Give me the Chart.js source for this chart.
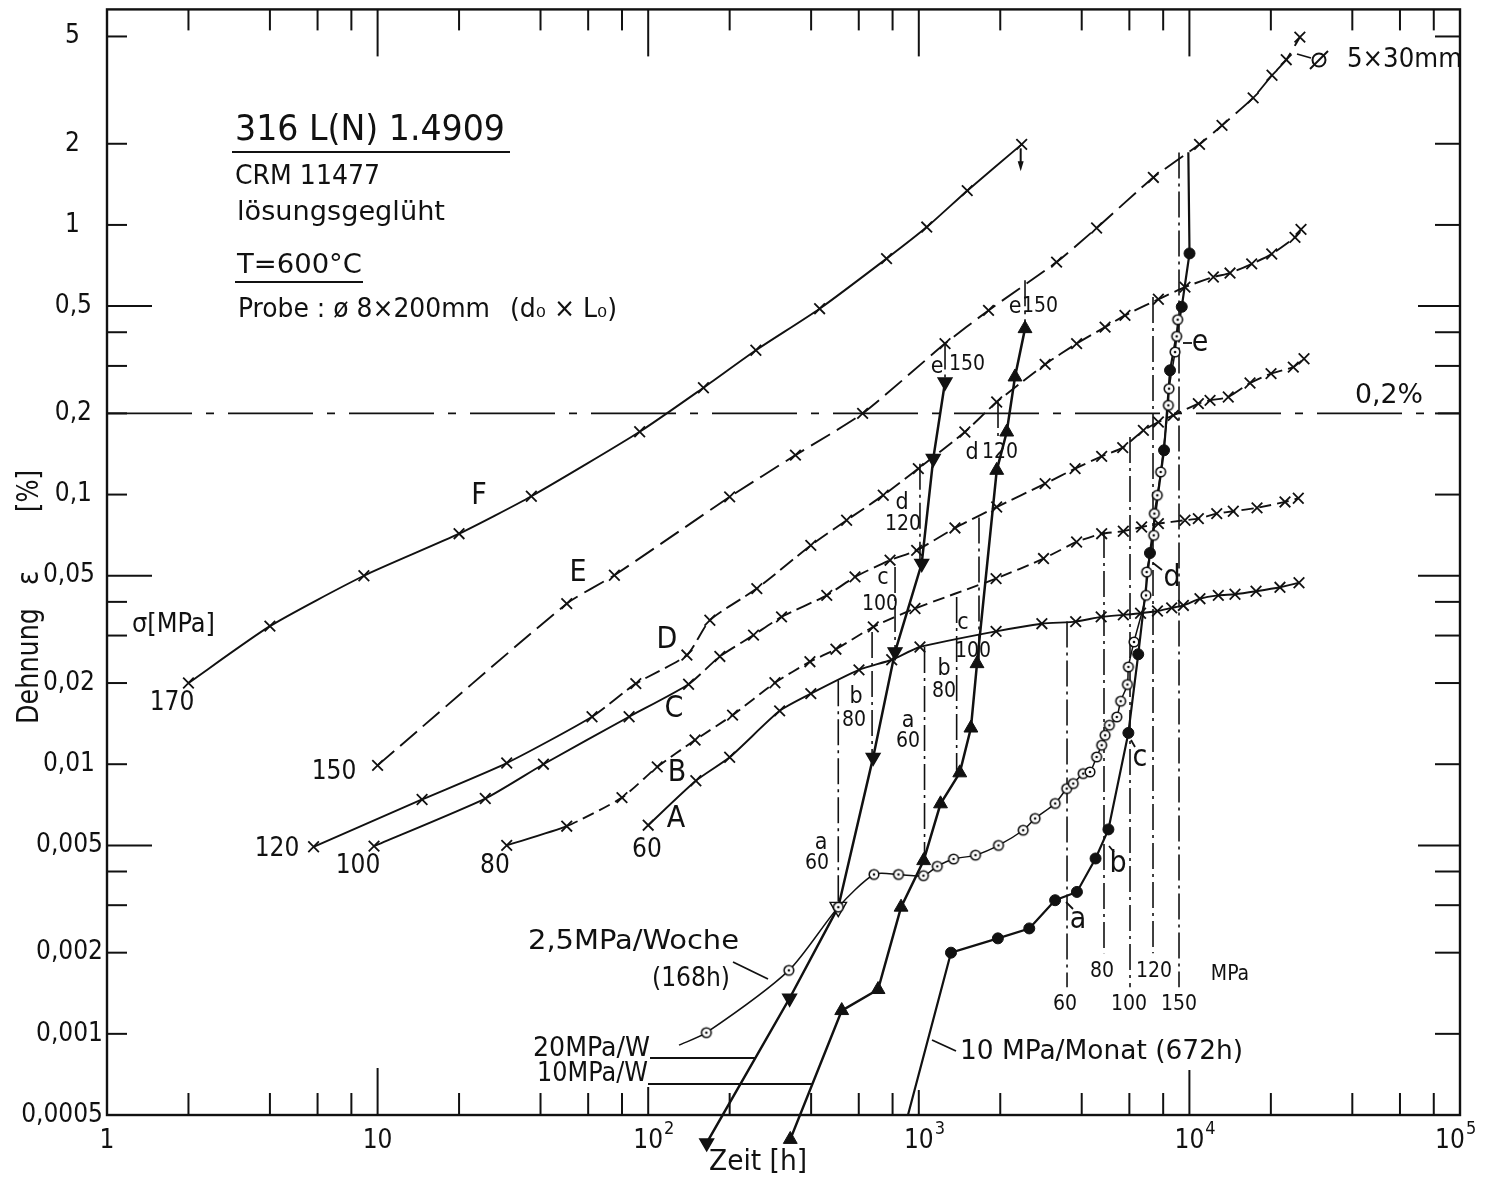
<!DOCTYPE html>
<html lang="de">
<head>
<meta charset="utf-8">
<title>316 L(N) 1.4909 – Kriechdehnung bei 600 °C</title>
<script src="https://cdn.jsdelivr.net/npm/chart.js@4.4.1/dist/chart.umd.min.js"></script>
<style>
  html, body { margin: 0; padding: 0; background: #fff; }
  canvas { display: block; }
</style>
</head>
<body>
<canvas id="chart" width="1488" height="1181"></canvas>
<script>
const INK = '#111';
const FONT = '"DejaVu Sans Condensed", "Liberation Sans Narrow", "Roboto Condensed", Roboto, "DejaVu Sans", sans-serif';

// ---- axes ----
const X_MIN = 1, X_MAX = 1e5;            // Zeit [h]
const Y_FRAME_MIN = 0.0005, Y_MAX = 6.3;  // Dehnung [%]
const Y_DRAW_MIN = 0.00037;               // room for the first loading steps below the frame

const xTickValues = [1, 10, 100, 1000, 10000, 100000];
const xTickBase = ['1', '10', '10', '10', '10', '10'];
const xTickExp = ['', '', '2', '3', '4', '5'];
const xMinorFactors = [2, 4, 6, 8];
const xDecadeTicks = [10, 100, 1000, 10000];

const yTickValues = [0.0005, 0.001, 0.002, 0.005, 0.01, 0.02, 0.05, 0.1, 0.2, 0.5, 1, 2, 5];
const yTickLabels = ['0,0005', '0,001', '0,002', '0,005', '0,01', '0,02', '0,05', '0,1', '0,2', '0,5', '1', '2', '5'];
const yShortTicks = [0.001, 0.002, 0.003, 0.004, 0.01, 0.02, 0.03, 0.04, 0.1, 0.2, 0.3, 0.4, 1, 2, 5];
const yLongTicks = [0.005, 0.05, 0.5];

const limitStrain = 0.2; // 0,2 % line

// ---- creep curves at constant stress: F 170, E 150, D 120, C 100, B 80, A 60 MPa ----
const curveF_time   = [2, 4, 8.9, 20, 37, 93, 160, 250, 430, 760, 1070, 1510, 2400];
const curveF_strain = [0.020, 0.0325, 0.050, 0.0716, 0.0986, 0.171, 0.249, 0.343, 0.489, 0.750, 0.982, 1.34, 1.99];

const curveE_time   = [10, 50, 75, 200, 350, 620, 1250, 1810, 3230, 4540, 7360, 10900, 13200, 17200, 20200, 22800, 25600];
const curveE_strain = [0.0099, 0.0394, 0.0502, 0.098, 0.140, 0.200, 0.363, 0.482, 0.728, 0.974, 1.50, 1.99, 2.34, 2.96, 3.59, 4.10, 4.97];

const curveD_time   = [5.8, 14.6, 30, 62, 90, 139, 169, 252, 399, 541, 739, 996, 1480, 1940, 2930, 3830, 4880, 5780, 7680, 9630, 12260, 14130, 16990, 20150, 24560, 25850];
const curveD_strain = [0.00494, 0.0074, 0.0101, 0.0150, 0.0199, 0.0254, 0.0342, 0.0448, 0.0648, 0.0803, 0.0994, 0.1248, 0.1706, 0.2204, 0.304, 0.363, 0.418, 0.462, 0.530, 0.588, 0.641, 0.663, 0.717, 0.780, 0.899, 0.963];

const curveC_time   = [9.7, 25, 41, 85, 141, 184, 245, 311, 457, 581, 783, 982, 1360, 1940, 2930, 3780, 4740, 5670, 6760, 7680, 8720, 10790, 11920, 13920, 16750, 20030, 24210, 26520];
const curveC_strain = [0.00497, 0.00746, 0.0100, 0.0150, 0.0198, 0.0251, 0.0301, 0.0352, 0.0423, 0.0495, 0.0571, 0.0621, 0.0752, 0.0899, 0.1098, 0.1248, 0.1386, 0.1493, 0.173, 0.1858, 0.1967, 0.2175, 0.2236, 0.230, 0.2593, 0.281, 0.297, 0.319];

const curveB_time   = [30, 50, 80, 108, 149, 205, 294, 396, 494, 679, 968, 1930, 2890, 3830, 4740, 5700, 6660, 7680, 9630, 10790, 12620, 14530, 17780, 22560, 25260];
const curveB_strain = [0.0050, 0.00589, 0.00752, 0.00977, 0.01229, 0.0152, 0.02005, 0.024, 0.0267, 0.0323, 0.0378, 0.0488, 0.0579, 0.0667, 0.0716, 0.0731, 0.0758, 0.078, 0.0803, 0.0814, 0.085, 0.0867, 0.0893, 0.0939, 0.0969];

const curveA_time   = [100, 150, 200, 306, 399, 601, 794, 1010, 1930, 2850, 3800, 4720, 5700, 6600, 7620, 8600, 9500, 10940, 12790, 14740, 17630, 21610, 25410];
const curveA_strain = [0.00594, 0.00868, 0.01061, 0.01577, 0.01827, 0.02238, 0.0244, 0.0272, 0.0311, 0.0332, 0.0338, 0.0352, 0.0358, 0.0363, 0.037, 0.038, 0.0388, 0.0411, 0.0423, 0.0427, 0.0438, 0.0453, 0.0471];

// ---- stepwise loading ----
// 2,5 MPa per week (168 h), first entry is the start of the line
const weekly25_time   = [130, 164, 331, 504, 683, 841, 1040, 1170, 1344, 1620, 1970, 2430, 2690, 3190, 3520, 3720, 4050, 4290, 4540, 4740, 4880, 5060, 5390, 5570, 5900, 5950, 6240, 6910, 6950, 7380, 7420, 7610, 7830, 8360, 8410, 8850, 8970, 9050];
const weekly25_strain = [0.000908, 0.00101, 0.00172, 0.00295, 0.0039, 0.0039, 0.00386, 0.00418, 0.00445, 0.0046, 0.0050, 0.00569, 0.00629, 0.00715, 0.00812, 0.00848, 0.00923, 0.00936, 0.01064, 0.01176, 0.0128, 0.01395, 0.01497, 0.01712, 0.01975, 0.02295, 0.0284, 0.0423, 0.0516, 0.0706, 0.085, 0.0994, 0.1213, 0.2143, 0.2471, 0.3378, 0.3862, 0.4454];

// 20 MPa per week (down triangles)
const weekly20_time   = [164.5, 333, 504, 678, 817, 1025, 1131, 1250];
const weekly20_strain = [0.000394, 0.001355, 0.00295, 0.0106, 0.0261, 0.0555, 0.136, 0.2615];
const weekly20_openIndex = 2; // reading shared with the 2,5 MPa/Woche curve

// 10 MPa per week (up triangles)
const weekly10_time   = [335, 519, 707, 860, 1042, 1203, 1417, 1558, 1641, 1941, 2113, 2267, 2469];
const weekly10_strain = [0.000406, 0.00122, 0.00146, 0.00295, 0.00439, 0.00713, 0.00929, 0.01362, 0.0236, 0.123, 0.1706, 0.273, 0.4125];

// 10 MPa per month (672 h), filled dots; first and last entries are line ends
const monthly10_time   = [912, 1315, 1960, 2560, 3190, 3840, 4500, 5020, 5950, 6470, 7150, 8060, 8480, 9370, 10010, 9910];
const monthly10_strain = [0.0005, 0.0020, 0.00226, 0.00246, 0.00313, 0.00336, 0.00447, 0.00573, 0.01306, 0.02557, 0.0607, 0.146, 0.289, 0.497, 0.784, 1.86];

// stress steps a..e (60..150 MPa): vertical links to the constant-load curves
const stepLetters = ['a', 'b', 'c', 'd', 'e'];
const stepStress  = [60, 80, 100, 120, 150];
const step20_time   = [504, 672, 817, 1010, 1250];
const step20_top    = [0.0205, 0.0309, 0.0539, 0.1302, 0.363];
const step20_bottom = [0.00295, 0.0106, 0.0261, 0.0555, 0.2615];
const step10_time   = [1050, 1380, 1669, 1962, 2469];
const step10_top    = [0.0272, 0.0417, 0.0823, 0.2204, 0.623];
const step10_bottom = [0.00439, 0.0093, 0.0236, 0.1635, 0.4125];
const stepMonth_time   = [3530, 4835, 6033, 7337, 9154];
const stepMonth_top    = [0.0338, 0.0727, 0.1635, 0.540, 1.858];
const stepMonth_bottom = [0.00149, 0.00199, 0.00149, 0.00199, 0.00149];

// ---- layout of annotation texts (canvas pixels) ----
const textNotes = [
  // text, x, y, size, align, fitted width
  ['316 L(N) 1.4909', 235, 131, 36, 'left', 270],
  ['CRM 11477', 235, 177, 26, 'left', 145],
  ['lösungsgeglüht', 237, 213, 26, 'left', 208],
  ['T=600°C', 237, 266, 26, 'left', 125],
  ['Probe : ø 8×200mm', 238, 310, 26, 'left', 252],
  ['(d₀ × L₀)', 510, 310, 26, 'left', 107],
  ['σ[MPa]', 132, 625, 26, 'left', 83],
  ['F', 479, 496, 30], ['E', 578, 573, 30], ['D', 667, 640, 30],
  ['C', 674, 709, 30], ['B', 677, 773, 30], ['A', 676, 819, 30],
  ['170', 172, 703, 26], ['150', 334, 772, 26], ['120', 277, 849, 26],
  ['100', 358, 866, 26], ['80', 495, 866, 26], ['60', 647, 850, 26],
  ['0,2%', 1355, 396, 26, 'left', 68],
  ['2,5MPa/Woche', 528, 942, 26, 'left', 211],
  ['(168h)', 652, 979, 26, 'left', 78],
  ['20MPa/W', 650, 1049, 26, 'right', 117],
  ['10MPa/W', 648, 1074, 26, 'right', 111],
  ['10 MPa/Monat (672h)', 960, 1052, 26, 'left', 283],
  ['5×30mm', 1347, 60, 26, 'left', 115],
  ['MPa', 1230, 975, 21],
  ['Zeit [h]', 758, 1163, 28, 'center', 98]
];
const underlines = [[232, 152, 510], [235, 282, 363]];
const leaders = [
  [733, 962, 768, 979], [650, 1058, 755, 1058], [648, 1084, 812, 1084], [932, 1040, 956, 1051],
  [1066, 902, 1073, 909], [1109, 846, 1114, 852], [1131, 740, 1135, 747], [1153, 563, 1162, 570],
  [1183, 343, 1192, 343], [1297, 54, 1311, 58]
];
const step20_labelPos = [[821, 843, 817, 864], [856, 697, 854, 721], [883, 578, 880, 605], [902, 503, 903, 525], [937, 367, 967, 365]];
const step10_labelPos = [[908, 721, 908, 742], [944, 669, 944, 692], [963, 623, 973, 652], [972, 453, 1000, 453], [1015, 307, 1040, 307]];
const stepMonth_letterPos = [[1078, 920], [1118, 864], [1140, 758], [1172, 578], [1200, 343]];
const stepMonth_stressPos = [[1065, 1005], [1102, 972], [1129, 1005], [1154, 972], [1179, 1005]];

// ---- helpers ----
const pts = (xs, ys) => xs.map((t, i) => ({ x: t, y: ys[i] }));
const dashFrom = (xs, t0, dash) => ({ borderDash: c => (xs[c.p0DataIndex] >= t0 ? dash : undefined) });

function ringDot() {
  const c = document.createElement('canvas');
  c.width = c.height = 14;
  const g = c.getContext('2d');
  g.fillStyle = '#fff'; g.strokeStyle = INK; g.lineWidth = 1.6;
  g.beginPath(); g.arc(7, 7, 4.8, 0, Math.PI * 2); g.fill(); g.stroke();
  g.fillStyle = INK; g.beginPath(); g.arc(7, 7, 1.3, 0, Math.PI * 2); g.fill();
  return c;
}

function creep(xs, ys, extra) {
  return Object.assign({
    data: pts(xs, ys), fill: false, clip: false,
    borderColor: INK, borderWidth: 1.9, tension: 0.2,
    pointStyle: 'crossRot', pointRadius: 7.5, pointBorderWidth: 1.8,
    pointBorderColor: INK, pointBackgroundColor: INK, order: 5
  }, extra || {});
}

function stepLines(ts, tops, bots) {
  return ts.map((t, i) => ({
    data: [{ x: t, y: tops[i] }, { x: t, y: bots[i] }],
    borderColor: INK, borderWidth: 1.6, borderDash: [26, 5, 3, 5],
    pointRadius: 0, fill: false, order: 8
  }));
}

const datasets = [
  { data: [{ x: X_MIN, y: limitStrain }, { x: X_MAX, y: limitStrain }], borderColor: INK, borderWidth: 1.7,
    borderDash: [85, 14, 8, 14], pointRadius: 0, fill: false, order: 9 },
  ...stepLines(step20_time, step20_top, step20_bottom),
  ...stepLines(step10_time, step10_top, step10_bottom),
  ...stepLines(stepMonth_time, stepMonth_top, stepMonth_bottom),
  creep(curveF_time, curveF_strain),
  creep(curveE_time, curveE_strain, { borderDash: [22, 8] }),
  creep(curveD_time, curveD_strain, { segment: dashFrom(curveD_time, 50, [16, 6]) }),
  creep(curveC_time, curveC_strain, { segment: dashFrom(curveC_time, 140, [16, 6]) }),
  creep(curveB_time, curveB_strain, { segment: dashFrom(curveB_time, 40, [12, 6]) }),
  creep(curveA_time, curveA_strain),
  { data: pts(monthly10_time, monthly10_strain), borderColor: INK, borderWidth: 2.2, tension: 0, fill: false, clip: false,
    pointStyle: 'circle', pointBackgroundColor: INK, pointBorderColor: INK, pointBorderWidth: 1,
    pointRadius: c => (c.dataIndex === 0 || c.dataIndex === monthly10_time.length - 1 ? 0 : 5.5), order: 3 },
  { data: pts(weekly10_time, weekly10_strain), borderColor: INK, borderWidth: 2.5, tension: 0, fill: false, clip: false,
    pointStyle: 'triangle', pointRadius: 8, pointBackgroundColor: INK, pointBorderColor: INK, pointBorderWidth: 1, order: 2 },
  { data: pts(weekly20_time, weekly20_strain), borderColor: INK, borderWidth: 2.5, tension: 0, fill: false, clip: false,
    pointStyle: 'triangle', pointRotation: 180, pointRadius: c => (c.dataIndex === weekly20_openIndex ? 9.5 : 8),
    pointBackgroundColor: weekly20_time.map((t, i) => (i === weekly20_openIndex ? '#fff' : INK)),
    pointBorderColor: INK, pointBorderWidth: 1.4, order: 1 },
  { data: pts(weekly25_time, weekly25_strain), borderColor: INK, borderWidth: 1.5, tension: 0.25, fill: false, clip: false,
    pointStyle: ringDot(), pointRadius: c => (c.dataIndex === 0 ? 0 : 5), order: 0 }
];

// ---- frame, ticks, labels and notes ----
function drawText(ctx, s, x, y, size, align, width) {
  ctx.save();
  ctx.font = size + 'px ' + FONT;
  ctx.textBaseline = 'middle';
  ctx.textAlign = align || 'center';
  ctx.fillStyle = INK;
  ctx.translate(x, y);
  if (width) ctx.scale(width / ctx.measureText(s).width, 1);
  ctx.fillText(s, 0, 0);
  ctx.restore();
}
function line(ctx, x1, y1, x2, y2) {
  ctx.beginPath(); ctx.moveTo(x1, y1); ctx.lineTo(x2, y2); ctx.stroke();
}

const axisFrame = {
  id: 'axisFrame',
  afterDatasetsDraw(chart) {
    const ctx = chart.ctx;
    const xs = chart.scales.x, ys = chart.scales.y;
    const L = xs.getPixelForValue(X_MIN), R = xs.getPixelForValue(X_MAX);
    const T = chart.chartArea.top, B = ys.getPixelForValue(Y_FRAME_MIN);
    ctx.save();
    ctx.strokeStyle = INK;
    ctx.lineCap = 'butt';

    // frame
    ctx.lineWidth = 2.4;
    ctx.strokeRect(L, T, R - L, B - T);

    // x ticks (inside, top and bottom)
    ctx.lineWidth = 2;
    const bottomMajor = { 10: 47, 100: 28, 1000: 25, 10000: 45 };
    for (let d = 1; d < X_MAX; d *= 10) {
      xMinorFactors.forEach(f => {
        const px = xs.getPixelForValue(f * d);
        line(ctx, px, B, px, B - 22);
        line(ctx, px, T, px, T + 21);
      });
    }
    xDecadeTicks.forEach(v => {
      const px = xs.getPixelForValue(v);
      line(ctx, px, B, px, B - bottomMajor[v]);
      line(ctx, px, T, px, T + 47);
    });

    // y ticks (inside, left and right)
    yShortTicks.forEach(v => {
      const py = ys.getPixelForValue(v);
      line(ctx, L, py, L + 20, py);
      line(ctx, R, py, R - 25, py);
    });
    yLongTicks.forEach(v => {
      const py = ys.getPixelForValue(v);
      line(ctx, L, py, L + 45, py);
      line(ctx, R, py, R - 42, py);
    });

    // tick labels
    ctx.fillStyle = INK;
    ctx.textBaseline = 'middle';
    yTickValues.forEach((v, i) => {
      const s = yTickLabels[i];
      const right = s.length === 1 ? 80 : s.length === 3 ? 92 : s.length === 4 ? 95 : 103;
      drawText(ctx, s, right, ys.getPixelForValue(v), 26, 'right');
    });
    xTickValues.forEach((v, i) => {
      let px = xs.getPixelForValue(v);
      if (i === xTickValues.length - 1) px -= 10;
      ctx.font = '26px ' + FONT;
      ctx.textAlign = 'center';
      ctx.fillText(xTickBase[i], px, 1141);
      if (xTickExp[i]) {
        const w = ctx.measureText(xTickBase[i]).width;
        ctx.font = '18px ' + FONT;
        ctx.textAlign = 'left';
        ctx.fillText(xTickExp[i], px + w / 2 + 1, 1129);
      }
    });

    // y axis title
    ctx.save();
    ctx.translate(30, 0);
    ctx.rotate(-Math.PI / 2);
    drawText(ctx, 'Dehnung', -666, 0, 30, 'center', 116);
    drawText(ctx, 'ε', -578, 0, 30, 'center');
    drawText(ctx, '[%]', -491, 0, 30, 'center', 42);
    ctx.restore();

    // notes
    textNotes.forEach(n => drawText(ctx, n[0], n[1], n[2], n[3], n[4], n[5]));
    ctx.lineWidth = 2.2;
    underlines.forEach(u => line(ctx, u[0], u[1], u[2], u[1]));
    ctx.lineWidth = 1.8;
    leaders.forEach(l => line(ctx, l[0], l[1], l[2], l[3]));

    // diameter sign of the 5 x 30 mm specimen
    ctx.lineWidth = 2;
    ctx.beginPath(); ctx.arc(1319, 60, 6.5, 0, Math.PI * 2); ctx.stroke();
    line(ctx, 1310, 69, 1328, 51);

    // step labels
    stepLetters.forEach((s, i) => {
      const p = step20_labelPos[i], q = step10_labelPos[i];
      drawText(ctx, s, p[0], p[1], 23);
      drawText(ctx, String(stepStress[i]), p[2], p[3], 21);
      drawText(ctx, s, q[0], q[1], 23);
      drawText(ctx, String(stepStress[i]), q[2], q[3], 21);
      drawText(ctx, s, stepMonth_letterPos[i][0], stepMonth_letterPos[i][1], 30);
      drawText(ctx, String(stepStress[i]), stepMonth_stressPos[i][0], stepMonth_stressPos[i][1], 21);
    });

    // end of curve F: arrow pointing down
    const fx = xs.getPixelForValue(curveF_time[curveF_time.length - 1]);
    const fy = ys.getPixelForValue(curveF_strain[curveF_strain.length - 1]);
    ctx.lineWidth = 2;
    line(ctx, fx - 1, fy + 4, fx - 1, fy + 20);
    ctx.beginPath();
    ctx.moveTo(fx - 4, fy + 17); ctx.lineTo(fx + 2, fy + 17); ctx.lineTo(fx - 1, fy + 27); ctx.closePath();
    ctx.fill();
    ctx.restore();
  }
};

const pxPerDecadeY = 1106 / Math.log10(Y_MAX / Y_FRAME_MIN);
const padBottom = 1181 - (9 + pxPerDecadeY * Math.log10(Y_MAX / Y_DRAW_MIN));

new Chart(document.getElementById('chart'), {
  type: 'line',
  data: { datasets },
  options: {
    responsive: false,
    devicePixelRatio: 1,
    animation: false,
    events: [],
    layout: { padding: { left: 107, right: 28, top: 9, bottom: padBottom } },
    plugins: { legend: { display: false }, tooltip: { enabled: false } },
    scales: {
      x: { type: 'logarithmic', min: X_MIN, max: X_MAX, display: false },
      y: { type: 'logarithmic', min: Y_DRAW_MIN, max: Y_MAX, display: false }
    }
  },
  plugins: [axisFrame]
});
</script>
</body>
</html>
